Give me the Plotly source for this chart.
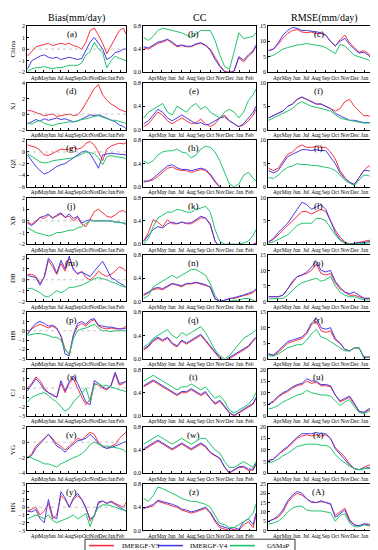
import plotly.graph_objects as go

# ---------------- data ----------------
days = [4, 19, 34, 49, 64, 79, 94, 109, 124, 139, 154, 169, 184, 199, 214,
        229, 244, 259, 274, 289, 304, 319, 334, 349, 358]
month_days = [31, 61, 92, 122, 153, 184, 214, 245, 275, 306, 337]
month_labels = ["Apr", "May", "Jun", "Jul", "Aug", "Sep", "Oct", "Nov", "Dec", "Jan", "Feb"]
regions = ["China", "XJ", "QZ", "XB", "DB", "HB", "CJ", "YG", "HN"]
panel_letters = ["a", "b", "c", "d", "e", "f", "g", "h", "i", "j", "k", "l", "m", "n",
                 "o", "p", "q", "r", "s", "t", "u", "v", "w", "x", "y", "z", "A"]
col_titles = ["Bias(mm/day)", "CC", "RMSE(mm/day)"]
series_names = ["IMERGF-V3", "IMERGF-V4", "GSMaP"]

bias_ranges = [(-2, 2), (-2, 4), (-6, 2), (-2, 2), (-2, 2.3), (-3, 2), (-3, 2), (-4, 2), (-3, 3)]
bias_ticks = [[-2, -1, 0, 1, 2], [-2, 0, 2, 4], [-6, -4, -2, 0, 2], [-2, -1, 0, 1, 2],
              [-2, -1, 0, 1, 2], [-3, -2, -1, 0, 1, 2], [-3, -2, -1, 0, 1, 2],
              [-4, -2, 0, 2], [-3, -2, -1, 0, 1, 2, 3]]
cc_ticks = [0, 0.4, 0.8]
cc_ticklabels = ["0.0", "0.4", "0.8"]
rmse_max = [15, 10, 10, 10, 15, 15, 20, 20, 25]

# China
a_v3 = [-0.6, -0.2, 0.2, 0.3, 0.4, 0.5, 0.3, 0.4, 0.5, 0.4, 0.5, 0.3, 0.2, 0.0, 0.6, 1.6, 1.8, 1.2, 0.5, -0.4, 0.3, 1.0, 1.6, 1.8, 1.3]
a_v4 = [-1.7, -1.0, -0.8, -0.6, -0.5, -0.7, -0.8, -0.7, -0.9, -0.8, -0.7, -0.8, -0.9, -0.8, -0.1, 0.6, 1.0, 0.5, 0.0, -0.9, -0.7, -0.3, -0.2, 0.0, 0.0]
a_gs = [-1.9, -1.7, -1.6, -1.6, -1.5, -1.6, -1.7, -1.6, -1.6, -1.5, -1.4, -1.4, -1.4, -1.2, -0.5, -0.2, 0.6, 0.0, -0.3, -1.6, -1.0, -0.6, -0.8, -0.9, -1.0]
b_v3 = [0.42, 0.40, 0.45, 0.50, 0.52, 0.56, 0.50, 0.44, 0.46, 0.44, 0.44, 0.48, 0.50, 0.46, 0.40, 0.25, 0.12, 0.02, 0.00, 0.02, 0.25, 0.18, 0.28, 0.35, 0.45]
b_v4 = [0.44, 0.42, 0.47, 0.52, 0.54, 0.57, 0.52, 0.46, 0.47, 0.45, 0.45, 0.49, 0.51, 0.47, 0.38, 0.22, 0.10, 0.01, -0.01, 0.03, 0.27, 0.21, 0.30, 0.37, 0.47]
b_gs = [0.60, 0.55, 0.62, 0.72, 0.76, 0.74, 0.72, 0.70, 0.68, 0.64, 0.60, 0.66, 0.72, 0.72, 0.72, 0.55, 0.30, 0.10, 0.05, 0.35, 0.68, 0.58, 0.60, 0.62, 0.68]
c_v3 = [7, 7.5, 9, 11, 12.5, 13.5, 13.8, 13, 12.8, 13, 12.5, 12.6, 12, 10, 8.5, 10.5, 12, 9.5, 8, 6.5, 7, 6, 4, 6, 10]
c_v4 = [7, 7.5, 9.5, 12, 13.5, 14.5, 14.2, 13.5, 13.5, 13.2, 13, 12.8, 12, 10, 8.5, 10, 11, 9, 7.5, 6.2, 6.5, 5.5, 3.5, 5, 8]
c_gs = [5, 5.5, 6.5, 7.5, 8, 8.5, 8.8, 9, 9.3, 9, 8.8, 8.5, 8, 7, 6, 9, 8.5, 7, 5.5, 5, 4.5, 4, 2.5, 3.5, 5]
# XJ
d_v3 = [0.5, 0.4, 0.2, 0.0, -0.2, -0.1, 0.0, -0.3, -0.2, -0.1, 0.0, -0.2, -0.1, 0.5, 1.5, 2.5, 3.3, 3.8, 2.5, 1.8, 1.3, 1.0, 0.6, 0.4, 0.3]
d_v4 = [-1.3, -1.0, -0.7, -0.9, -0.6, -0.8, -0.6, -0.5, -0.7, -0.6, -0.8, -1.0, -0.9, -0.6, -0.3, -0.1, -0.2, -0.1, -0.3, -0.5, -0.8, -1.0, -1.4, -1.6, -1.9]
d_gs = [-1.1, -1.3, -1.0, -0.8, -1.2, -1.4, -1.5, -1.3, -1.2, -1.1, -1.0, -1.0, -0.8, -0.7, -0.6, -0.4, -0.3, -0.2, -0.4, -0.6, -0.8, -0.8, -1.0, -1.1, -1.2]
e_v3 = [0.05, 0.10, 0.20, 0.30, 0.25, 0.15, 0.10, 0.15, 0.20, 0.15, 0.10, 0.12, 0.18, 0.10, 0.05, 0.10, 0.20, 0.25, 0.15, 0.10, 0.05, 0.08, 0.15, 0.25, 0.35]
e_v4 = [0.10, 0.15, 0.25, 0.35, 0.30, 0.20, 0.15, 0.20, 0.25, 0.20, 0.15, 0.10, 0.12, 0.08, 0.10, 0.15, 0.20, 0.22, 0.15, 0.10, 0.05, 0.10, 0.20, 0.30, 0.40]
e_gs = [0.20, 0.30, 0.35, 0.40, 0.45, 0.30, 0.25, 0.40, 0.35, 0.30, 0.40, 0.45, 0.35, 0.40, 0.30, 0.25, 0.20, 0.30, 0.35, 0.30, 0.20, 0.30, 0.50, 0.60, 0.70]
f_v3 = [2.5, 3, 3.5, 4, 5, 5.5, 6.5, 7, 6.5, 6, 5.5, 5.5, 5, 4.5, 4, 4.5, 6, 6.5, 5, 4, 3, 3, 2.5, 2, 2]
f_v4 = [2.5, 3, 3.5, 4, 5, 5.5, 6.5, 7, 6.5, 6, 5.5, 5.5, 5, 4.5, 3.5, 3, 2.5, 2, 2, 1.8, 1.5, 1.5, 1.5, 1.5, 1.5]
f_gs = [2, 2.5, 3, 3.5, 4, 4.5, 5.5, 6, 5.5, 5, 4.8, 4.5, 4.2, 4, 3.2, 2.5, 2.2, 2, 1.8, 1.6, 1.4, 1.4, 1.3, 1.3, 1.3]
# QZ
g_v3 = [1.2, 1.0, 0.8, 0.3, -0.5, -0.6, -0.2, 0.2, 0.5, 0.4, 0.5, 0.8, 0.5, 0.7, 1.5, 1.8, 1.2, 0.0, -1.5, 0.5, 1.0, 1.3, 1.5, 1.4, 1.6]
g_v4 = [-0.5, -1.5, -2.5, -3.2, -3.8, -3.5, -3.0, -2.5, -2.2, -2.0, -1.5, -1.0, -0.5, 0.0, 0.2, -0.3, -1.5, -2.8, -0.5, -0.3, -0.2, -0.3, -0.4, -0.5, -0.5]
g_gs = [-0.3, -0.8, -1.3, -1.7, -1.9, -1.8, -1.5, -1.4, -1.3, -1.2, -1.1, -1.0, -0.7, -0.3, 0.0, -0.1, -0.3, -1.0, -2.2, -0.8, -0.6, -0.8, -0.9, -1.0, -1.2]
h_v3 = [0.08, 0.10, 0.12, 0.18, 0.25, 0.32, 0.34, 0.30, 0.28, 0.28, 0.25, 0.28, 0.30, 0.28, 0.20, 0.08, 0.00, -0.10, -0.10, -0.10, -0.10, -0.10, -0.10, -0.10, -0.10]
h_v4 = [0.10, 0.10, 0.15, 0.22, 0.30, 0.36, 0.38, 0.33, 0.30, 0.30, 0.28, 0.30, 0.32, 0.30, 0.22, 0.10, 0.02, -0.10, -0.10, -0.10, -0.10, -0.10, -0.10, -0.10, -0.10]
h_gs = [0.45, 0.40, 0.45, 0.55, 0.60, 0.62, 0.62, 0.65, 0.60, 0.58, 0.50, 0.55, 0.65, 0.70, 0.68, 0.60, 0.45, 0.25, 0.05, 0.00, 0.05, 0.20, 0.25, 0.15, 0.10]
i_v3 = [4, 3.5, 4, 5.5, 7, 7.5, 8.5, 9, 8.5, 8.5, 8.7, 8.5, 8.5, 7.5, 6, 3.5, 2, 1, 0.5, 2, 3.5, 4.5, 3.5, 3, 4.5]
i_v4 = [3.5, 3, 3.5, 5, 6.5, 7, 7.5, 8, 8, 7.8, 8, 7.8, 7.8, 6.5, 5, 3, 1.8, 1, 0.5, 2, 3.5, 3.5, 3, 2.5, 3]
i_gs = [2, 1.8, 2.5, 3.5, 4.2, 4.5, 5, 4.8, 4.8, 4.6, 4.6, 4.4, 4.2, 4, 3.5, 2.5, 1.5, 0.8, 0.3, 1.5, 2.5, 2.5, 1.5, 1.5, 2.5]
# XB
j_v3 = [-0.1, -0.3, 0.0, 0.3, 0.2, 0.5, 0.3, 0.4, 0.6, 0.3, 0.4, 0.0, 0.3, -0.3, -0.5, 0.2, 0.8, 1.0, 0.7, 0.4, 0.3, 0.5, 0.8, 0.9, 0.7]
j_v4 = [-0.2, -0.4, -0.1, 0.3, 0.4, 0.6, 0.2, 0.5, 0.7, 0.3, 0.6, 0.2, 0.4, -0.2, 0.0, 0.1, 0.0, 0.0, 0.0, 0.0, 0.0, -0.1, -0.1, -0.2, -0.3]
j_gs = [-0.6, -0.8, -1.0, -1.1, -1.2, -1.3, -1.2, -1.0, -1.0, -0.9, -0.8, -0.8, -0.6, -0.5, -0.2, 0.0, 0.0, 0.0, 0.05, 0.0, -0.05, -0.1, -0.1, -0.15, -0.2]
k_v3 = [0.05, 0.20, 0.42, 0.38, 0.30, 0.42, 0.35, 0.35, 0.38, 0.35, 0.35, 0.40, 0.45, 0.45, 0.35, 0.05, -0.05, -0.1, -0.1, -0.1, -0.1, -0.1, -0.05, 0.0, 0.02]
k_v4 = [0.05, 0.15, 0.25, 0.30, 0.28, 0.35, 0.38, 0.35, 0.38, 0.36, 0.37, 0.42, 0.48, 0.45, 0.33, 0.05, -0.05, -0.1, -0.1, -0.1, -0.1, -0.1, -0.05, 0.0, 0.02]
k_gs = [0.00, 0.10, 0.30, 0.45, 0.50, 0.55, 0.55, 0.60, 0.58, 0.55, 0.55, 0.60, 0.62, 0.65, 0.55, 0.25, 0.05, 0.00, 0.00, 0.00, 0.00, 0.02, 0.05, 0.15, 0.25]
l_v3 = [0.5, 1, 2, 3, 4, 5, 6, 7, 7, 6.5, 7, 7.5, 7, 5, 3, 1.5, 0.5, 0, 0.2, 0.3, 0.5, 0.8, 1, 1.5, 2]
l_v4 = [0.5, 1.2, 2.5, 3.5, 4.5, 6, 7.5, 9, 8.5, 7.5, 8, 8.5, 7.5, 5, 2.5, 1, 0.3, 0, 0.1, 0.2, 0.3, 0.5, 0.7, 0.8, 1]
l_gs = [0.2, 0.5, 1, 1.5, 2, 3, 4, 4.5, 4.5, 4.5, 5.5, 5.5, 5, 3.5, 2, 0.8, 0.2, 0, 0, 0.1, 0.2, 0.3, 0.3, 0.4, 0.5]
# DB
m_v3 = [0.5, 0.5, 0.3, -0.3, 0.2, 1.8, 1.2, 0.5, 1.5, 0.8, 2.0, 1.0, 0.5, 0.8, 0.2, 0.0, 0.3, 0.8, 0.5, 0.3, 0.5, 0.8, 1.2, 1.0, 0.8]
m_v4 = [0.4, 0.3, 0.2, -0.5, 0.3, 2.0, 1.5, 0.6, 1.8, 1.0, 2.2, 0.9, 0.6, 0.7, 0.5, 0.3, 0.8, 1.2, 1.7, 1.0, 0.2, 0.0, -0.3, -0.5, -0.7]
m_gs = [-0.8, -0.8, -1.0, -1.2, -1.5, -1.6, -1.3, -1.0, -1.2, -1.0, -0.7, -0.7, -0.6, -0.5, -0.3, -0.1, 0.1, 0.2, 0.1, 0.0, -0.2, -0.3, -0.5, -0.6, -0.7]
n_v3 = [0.10, 0.15, 0.20, 0.22, 0.20, 0.25, 0.30, 0.28, 0.25, 0.30, 0.30, 0.32, 0.30, 0.28, 0.25, 0.05, 0.00, 0.02, 0.05, 0.05, 0.08, 0.10, 0.12, 0.15, 0.20]
n_v4 = [0.12, 0.16, 0.22, 0.24, 0.22, 0.27, 0.31, 0.29, 0.27, 0.31, 0.31, 0.33, 0.31, 0.29, 0.24, 0.04, 0.00, 0.02, 0.04, 0.06, 0.09, 0.11, 0.14, 0.17, 0.22]
n_gs = [0.05, 0.10, 0.25, 0.30, 0.35, 0.40, 0.45, 0.40, 0.45, 0.50, 0.55, 0.55, 0.50, 0.45, 0.30, 0.10, 0.00, 0.00, 0.00, 0.02, 0.02, 0.05, 0.05, 0.02, 0.00]
o_v3 = [1.5, 1.5, 1.5, 2, 4, 6, 8, 8.5, 9, 10, 12, 9, 8.5, 9, 6, 4, 3, 2, 2, 1.5, 1, 1, 1, 2, 4]
o_v4 = [1.5, 1.5, 1.5, 2, 4, 6.5, 8, 8.5, 9.5, 11, 13, 10, 9.5, 10, 6.5, 4.5, 3, 2.5, 3, 2, 1, 1, 0.8, 2, 4.5]
o_gs = [0.8, 0.8, 0.8, 1, 2, 3.5, 5, 6, 6.5, 7, 7.5, 6.5, 7, 8, 5, 3, 2, 1.5, 1.5, 1, 0.5, 0.5, 0.5, 1, 2]
# HB
p_v3 = [-0.3, 0.2, 0.5, 0.7, 0.5, 0.3, 0.5, 0.2, -0.5, -2.0, -2.5, -0.5, 0.5, 0.8, 0.5, 1.0, 1.2, 0.5, 0.3, 0.2, 0.3, 0.2, 0.2, 0.3, 0.5]
p_v4 = [-0.4, 0.3, 0.8, 1.0, 0.8, 0.5, 0.6, 0.3, -0.6, -2.5, -2.7, -0.4, 0.8, 1.0, 0.7, 1.2, 1.3, 0.6, 0.5, 0.4, 0.4, 0.3, 0.2, 0.2, 0.3]
p_gs = [-0.5, -0.4, -0.3, -0.3, -0.4, -0.5, -0.7, -0.7, -1.0, -2.0, -2.6, -0.8, 0.0, 0.2, 0.3, 0.5, 0.7, 0.3, 0.0, 0.0, -0.1, 0.0, 0.0, 0.0, 0.0]
q_v3 = [0.15, 0.20, 0.30, 0.35, 0.30, 0.35, 0.25, 0.20, 0.30, 0.25, 0.30, 0.35, 0.40, 0.30, 0.20, 0.10, 0.00, -0.05, 0.00, 0.05, 0.10, 0.15, 0.20, 0.30, 0.35]
q_v4 = [0.17, 0.22, 0.32, 0.37, 0.32, 0.37, 0.27, 0.22, 0.32, 0.27, 0.32, 0.37, 0.42, 0.32, 0.22, 0.12, 0.02, -0.03, 0.02, 0.07, 0.12, 0.17, 0.22, 0.32, 0.37]
q_gs = [0.20, 0.25, 0.35, 0.40, 0.45, 0.50, 0.40, 0.35, 0.45, 0.40, 0.45, 0.50, 0.55, 0.45, 0.30, 0.15, 0.05, 0.00, 0.05, 0.15, 0.25, 0.35, 0.40, 0.45, 0.50]
r_v3 = [1.5, 1, 2, 3.5, 5, 5.5, 6, 6.5, 8, 11, 12, 9, 8.5, 9, 6, 5, 3, 2.5, 3.5, 3.5, 0.5, 0.5, 0.8, 1, 2]
r_v4 = [1.5, 1.2, 2.5, 4, 5.5, 6, 6.5, 7, 8.5, 11.5, 13, 10, 9.5, 10, 6.5, 5, 3, 2.5, 3.5, 3.5, 0.5, 0.5, 0.5, 0.8, 2]
r_gs = [1, 0.8, 1.5, 2.5, 3.5, 4, 4.5, 4.5, 6, 8, 9.5, 7, 6.5, 5.5, 4.5, 3.5, 2.5, 2.5, 3.5, 3.5, 0.2, 0.3, 0.5, 0.8, 1.5]
# CJ
s_v3 = [0.0, 0.5, 1.2, 0.8, 0.0, -0.5, -0.8, -1.0, 0.5, -0.5, 0.5, 1.0, 0.0, -1.0, -1.8, -1.2, 0.5, 0.3, 0.0, -0.2, 0.2, 1.5, 0.3, 0.5, 0.8]
s_v4 = [-0.3, 0.3, 1.0, 0.5, -0.2, -0.5, -0.7, -1.0, 0.8, -0.3, 0.7, 1.3, 0.5, -0.5, -1.5, -1.8, 0.8, 0.5, 0.1, -0.1, 0.3, 1.7, 0.5, 0.6, 0.7]
s_gs = [-1.5, -1.0, -0.8, -0.6, -0.5, -0.8, -1.2, -1.5, -2.0, -2.5, -2.2, -1.5, -1.0, -0.5, 0.0, -1.5, 0.3, 0.5, 0.2, 0.3, 0.1, 0.0, -0.2, -0.3, -0.4]
t_v3 = [0.50, 0.55, 0.60, 0.55, 0.50, 0.45, 0.40, 0.35, 0.40, 0.40, 0.45, 0.40, 0.35, 0.40, 0.30, 0.20, 0.25, 0.15, 0.05, 0.00, 0.05, 0.10, 0.15, 0.20, 0.30]
t_v4 = [0.52, 0.57, 0.62, 0.57, 0.52, 0.47, 0.42, 0.37, 0.42, 0.42, 0.47, 0.42, 0.37, 0.42, 0.30, 0.22, 0.27, 0.17, 0.06, 0.01, 0.06, 0.12, 0.17, 0.22, 0.32]
t_gs = [0.60, 0.65, 0.70, 0.65, 0.60, 0.55, 0.50, 0.45, 0.50, 0.50, 0.55, 0.50, 0.45, 0.50, 0.40, 0.30, 0.35, 0.25, 0.10, 0.05, 0.10, 0.15, 0.20, 0.30, 0.40]
u_v3 = [5, 6, 8, 9.5, 10.5, 12, 13, 13.5, 15, 14, 14.5, 13, 13, 12.5, 9, 6, 7, 8, 5, 2, 1.5, 2.5, 3, 2.5, 6]
u_v4 = [5, 6.5, 8.5, 10, 11, 12.5, 13.5, 14, 16, 15, 15, 13.5, 13.5, 13, 9, 6.5, 7.5, 8.5, 5.5, 2, 1.5, 3, 3.5, 3, 7]
u_gs = [3, 3.5, 4.5, 6, 7, 8, 9, 9.5, 11, 10, 9.5, 9, 9, 8.5, 6.5, 4.5, 6, 7, 4, 1.5, 1, 2, 2.5, 2, 3.5]
# YG
v_v3 = [-2.0, -1.5, -0.5, 0.0, 0.5, 1.0, 0.5, -0.2, -0.5, -1.0, -0.5, 0.0, 0.5, 0.3, 0.8, 1.3, 1.0, 0.0, -0.5, -0.8, -0.5, -0.3, 0.5, 1.0, 1.3]
v_v4 = [-2.0, -1.7, -0.8, -0.2, 0.3, 1.0, 0.3, -0.5, -0.8, -1.3, -0.7, -0.3, 0.2, 0.3, 0.5, 1.0, 0.5, -0.2, -0.6, -0.8, -0.7, -0.5, -0.3, 0.0, 0.1]
v_gs = [-1.8, -2.0, -2.2, -2.5, -2.8, -2.8, -3.0, -3.2, -2.8, -2.5, -2.3, -2.0, -1.8, -1.5, -1.0, -0.3, 0.0, -0.3, -0.5, -0.5, -0.6, -0.7, -0.8, -1.0, -1.3]
w_v3 = [0.40, 0.45, 0.50, 0.55, 0.50, 0.45, 0.40, 0.45, 0.50, 0.45, 0.40, 0.45, 0.50, 0.45, 0.35, 0.30, 0.25, 0.10, 0.00, 0.05, 0.10, 0.10, 0.05, 0.05, 0.15]
w_v4 = [0.42, 0.47, 0.52, 0.57, 0.52, 0.47, 0.42, 0.47, 0.52, 0.47, 0.42, 0.47, 0.52, 0.47, 0.36, 0.31, 0.26, 0.11, 0.01, 0.06, 0.11, 0.12, 0.07, 0.07, 0.17]
w_gs = [0.50, 0.55, 0.60, 0.65, 0.60, 0.55, 0.50, 0.55, 0.60, 0.55, 0.50, 0.55, 0.60, 0.60, 0.50, 0.40, 0.35, 0.20, 0.10, 0.10, 0.15, 0.20, 0.15, 0.10, 0.20]
x_v3 = [5.5, 6, 8, 9.5, 11, 13, 15, 16, 16.5, 16, 16.5, 16, 16.5, 15, 11, 9, 7, 4, 2, 1.5, 2.5, 3.5, 3, 4, 6]
x_v4 = [5.5, 6, 8, 10, 11.5, 13.5, 15.5, 17, 17, 17, 17.5, 17, 17, 15, 10.5, 8, 6, 3.5, 2, 1.5, 2, 2.5, 2.5, 3, 5]
x_gs = [4.5, 5, 6, 7.5, 8.5, 10, 11.5, 12, 12.5, 12.5, 12.5, 12, 12, 11, 8, 6, 4.5, 3, 2, 1.5, 2, 2, 2, 2.5, 3.5]
# HN
y_v3 = [-0.5, -0.3, 0.0, -1.0, -0.5, 0.5, -1.5, -1.0, 1.5, 1.0, 0.0, 1.0, 1.5, 1.0, 0.0, -1.8, -1.0, 0.5, 0.8, 0.5, 0.8, 0.5, 0.3, 0.0, 0.6]
y_v4 = [-0.5, -0.6, -0.3, -1.5, -2.0, 1.0, -1.2, -1.5, 2.0, 1.2, 0.0, 1.2, 1.8, 1.0, -0.2, -1.5, -1.2, 0.7, 0.8, 0.5, 0.7, 0.4, 0.0, -0.3, -0.5]
y_gs = [-1.5, -1.3, -1.0, -1.2, -1.5, -1.0, -1.7, -2.0, -1.8, -1.5, -1.3, -1.0, -1.5, -1.2, -0.8, -2.5, -1.0, 0.0, 0.3, 0.3, 0.2, 0.0, -0.2, -0.3, -0.5]
z_v3 = [0.38, 0.40, 0.42, 0.50, 0.48, 0.45, 0.42, 0.40, 0.35, 0.33, 0.30, 0.32, 0.35, 0.38, 0.30, 0.15, 0.05, 0.02, 0.00, 0.02, 0.00, 0.10, 0.15, 0.05, 0.25]
z_v4 = [0.38, 0.42, 0.45, 0.52, 0.50, 0.47, 0.45, 0.42, 0.37, 0.35, 0.32, 0.34, 0.37, 0.40, 0.32, 0.18, 0.08, 0.05, 0.03, 0.05, 0.02, 0.15, 0.20, 0.10, 0.30]
z_gs = [0.55, 0.50, 0.60, 0.75, 0.72, 0.68, 0.65, 0.60, 0.55, 0.52, 0.50, 0.50, 0.48, 0.45, 0.40, 0.25, 0.12, 0.10, 0.05, 0.05, 0.10, 0.15, 0.20, 0.30, 0.45]
A_v3 = [5, 6, 7, 10, 15, 18, 20, 19, 17, 15, 15, 15.5, 15, 14, 8, 10, 12, 6, 3, 2.5, 3.5, 3, 2, 4, 12]
A_v4 = [5, 6, 8, 11, 16, 19, 21, 20, 17, 15.5, 15, 16, 15, 14.5, 7, 9, 11, 5, 3, 2.5, 3.5, 3.5, 2, 3.5, 9]
A_gs = [3.5, 4, 5, 7, 10, 12, 13, 13, 11, 10.5, 10.5, 10.5, 10, 9.5, 5, 8, 9, 4, 2, 2, 3, 2.5, 1.5, 2.5, 5]

panel_data = [
    (a_v3, a_v4, a_gs), (b_v3, b_v4, b_gs), (c_v3, c_v4, c_gs),
    (d_v3, d_v4, d_gs), (e_v3, e_v4, e_gs), (f_v3, f_v4, f_gs),
    (g_v3, g_v4, g_gs), (h_v3, h_v4, h_gs), (i_v3, i_v4, i_gs),
    (j_v3, j_v4, j_gs), (k_v3, k_v4, k_gs), (l_v3, l_v4, l_gs),
    (m_v3, m_v4, m_gs), (n_v3, n_v4, n_gs), (o_v3, o_v4, o_gs),
    (p_v3, p_v4, p_gs), (q_v3, q_v4, q_gs), (r_v3, r_v4, r_gs),
    (s_v3, s_v4, s_gs), (t_v3, t_v4, t_gs), (u_v3, u_v4, u_gs),
    (v_v3, v_v4, v_gs), (w_v3, w_v4, w_gs), (x_v3, x_v4, x_gs),
    (y_v3, y_v4, y_gs), (z_v3, z_v4, z_gs), (A_v3, A_v4, A_gs),
]

# ---------------- styling ----------------
W, H = 378, 550
FONT = "Liberation Serif"
colors = ["#f5333f", "#4a3be6", "#1fc46a"]
col_px = [(19, 118), (135, 248), (260, 373)]
row_top0, row_h, row_pitch = 15, 47, 57.9

fig = go.Figure()
layout = {}
annotations = []
shapes = []

for r in range(9):
    top = row_top0 + row_pitch * r
    bot = top + row_h
    ydom = [1 - bot / H, 1 - top / H]
    for c in range(3):
        n = r * 3 + c + 1
        xs = "" if n == 1 else str(n)
        xref, yref = "x" + xs, "y" + xs
        for k in range(3):
            fig.add_trace(go.Scatter(
                x=days, y=panel_data[n - 1][k], xaxis=xref, yaxis=yref,
                mode="lines", line=dict(color=colors[k], width=1),
                name=series_names[k], showlegend=False, hoverinfo="skip"))
        layout["xaxis" + xs] = dict(
            domain=[col_px[c][0] / W, col_px[c][1] / W], anchor=yref,
            range=[2, 358], tickmode="array", tickvals=month_days, ticktext=month_labels,
            tickangle=0, ticks="inside", ticklen=2, tickwidth=0.6, tickcolor="black",
            showline=True, mirror=True, linecolor="black", linewidth=0.8,
            showgrid=False, zeroline=False, tickfont=dict(size=5.5, color="black"),
            ticklabelstandoff=0, fixedrange=True)
        if c == 0:
            lo, hi = bias_ranges[r]
            ya = dict(range=[lo, hi], tickmode="array", tickvals=bias_ticks[r],
                      title=dict(text=regions[r], font=dict(size=7, color="black"), standoff=2))
            shapes.append(dict(type="line", xref=xref + " domain", yref=yref,
                               x0=0, x1=1, y0=0, y1=0,
                               line=dict(color="#aaaaaa", width=0.7, dash="dot")))
        elif c == 1:
            ya = dict(range=[0, 0.8], tickmode="array", tickvals=cc_ticks, ticktext=cc_ticklabels)
        else:
            ya = dict(range=[0, rmse_max[r]], tickmode="linear", tick0=0, dtick=5)
        ya.update(domain=ydom, anchor=xref, ticks="inside", ticklen=2, tickwidth=0.6,
                  tickcolor="black", showline=True, mirror=True, linecolor="black",
                  linewidth=0.8, showgrid=False, zeroline=False,
                  tickfont=dict(size=6, color="black"), fixedrange=True)
        layout["yaxis" + xs] = ya
        annotations.append(dict(
            text="(" + panel_letters[n - 1] + ")", xref=xref + " domain", yref=yref + " domain",
            x=0.45, y=0.83, xanchor="center", yanchor="middle", showarrow=False,
            font=dict(size=9, color="black")))

for c in range(3):
    annotations.append(dict(
        text=col_titles[c], xref="paper", yref="paper",
        x=(col_px[c][0] + col_px[c][1]) / 2 / W, y=1 - 7 / H,
        xanchor="center", yanchor="middle", showarrow=False,
        font=dict(size=10, color="black")))

# ---- legend box (drawn in paper coordinates, styling only) ----
leg_box = (77, 534, 287, 547)          # x0, y0, x1, y1 in pixels from top-left
leg_line_x = [(81, 106), (150, 175), (222, 247)]
leg_text_x = [113, 181, 258]
leg_y = (leg_box[1] + leg_box[3]) / 2
shapes.append(dict(type="rect", xref="paper", yref="paper",
                   x0=leg_box[0] / W, x1=leg_box[2] / W,
                   y0=1 - leg_box[3] / H, y1=1 - leg_box[1] / H,
                   line=dict(color="black", width=0.8), fillcolor="white"))
for k in range(3):
    shapes.append(dict(type="line", xref="paper", yref="paper",
                       x0=leg_line_x[k][0] / W, x1=leg_line_x[k][1] / W,
                       y0=1 - leg_y / H, y1=1 - leg_y / H,
                       line=dict(color=colors[k], width=1.6)))
    annotations.append(dict(text=series_names[k], xref="paper", yref="paper",
                            x=leg_text_x[k] / W, y=1 - leg_y / H,
                            xanchor="left", yanchor="middle", showarrow=False,
                            borderpad=0, font=dict(size=7, color="black")))

fig.update_layout(
    width=W, height=H, margin=dict(l=0, r=0, t=0, b=0),
    paper_bgcolor="white", plot_bgcolor="white",
    font=dict(family=FONT, color="black"), showlegend=False,
    annotations=annotations, shapes=shapes,
    **layout)

fig.write_html("out.html")
